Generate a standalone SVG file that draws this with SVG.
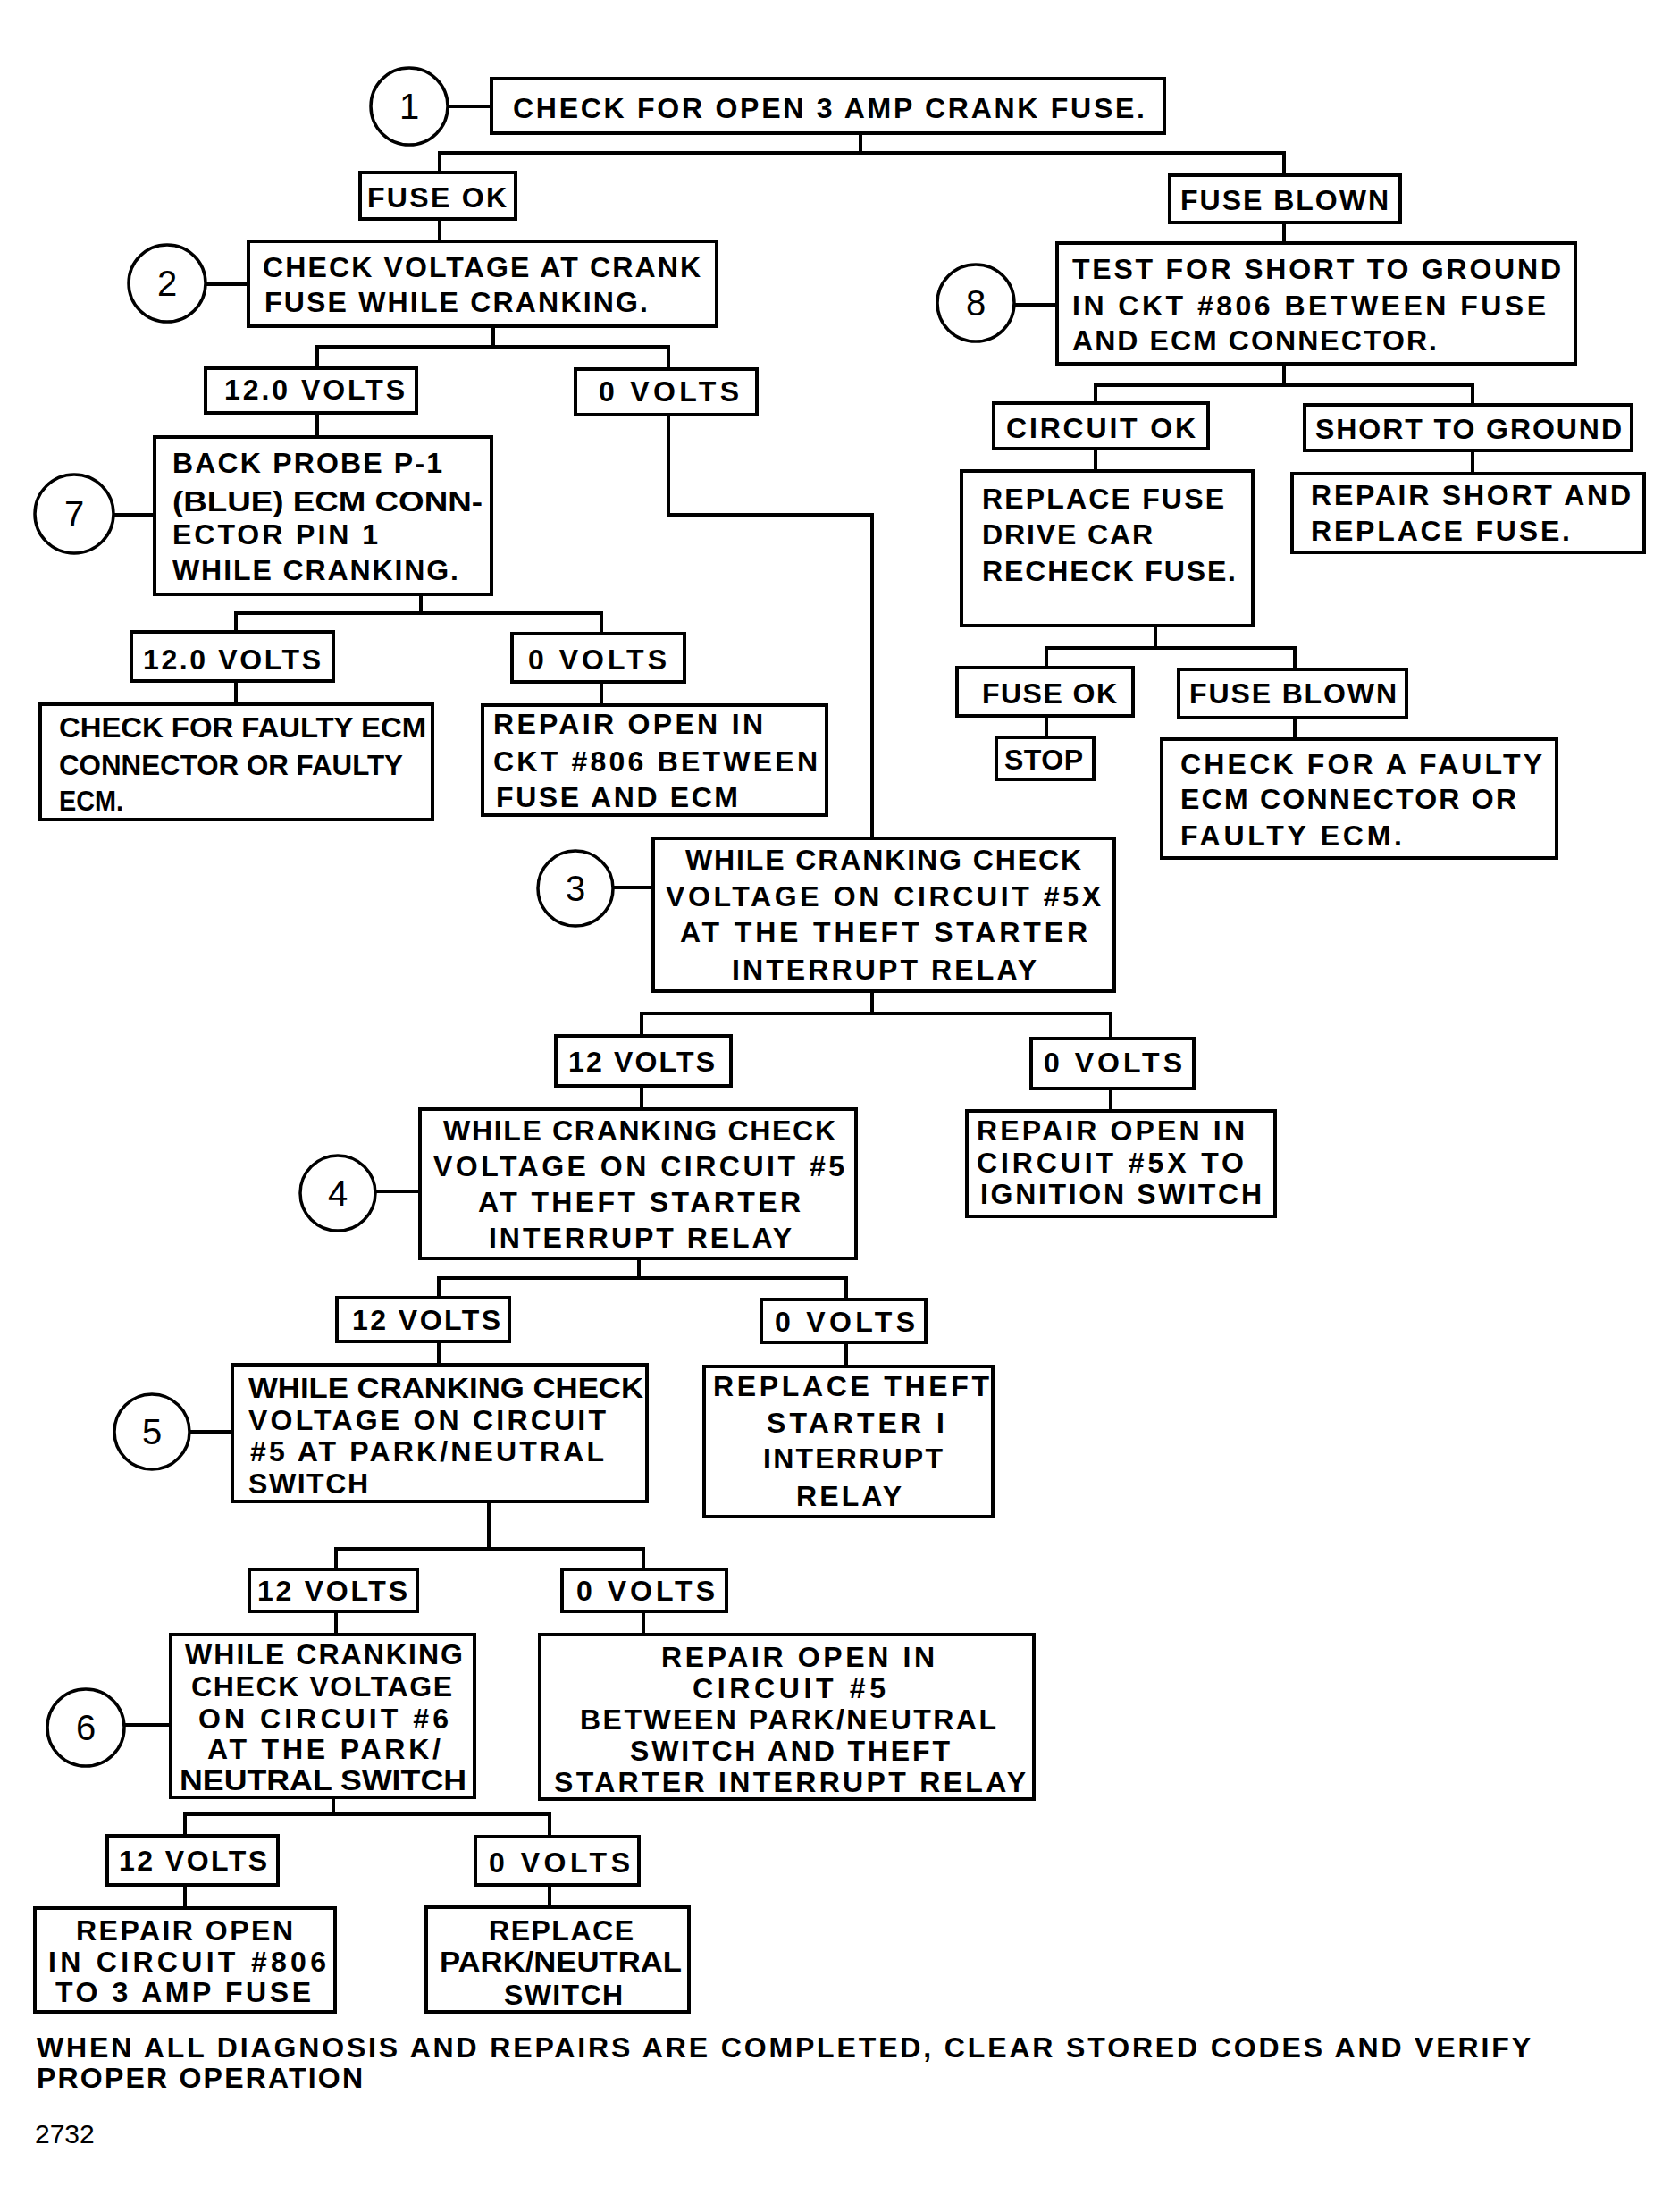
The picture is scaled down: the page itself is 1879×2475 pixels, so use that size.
<svg xmlns="http://www.w3.org/2000/svg" width="1879" height="2475" viewBox="0 0 1879 2475">
<style>
.b{fill:#fff;stroke:#000;stroke-width:4}
.c{fill:#fff;stroke:#000;stroke-width:3.5}
.t{font-family:"Liberation Sans",Arial,sans-serif;font-size:32px;font-weight:bold;fill:#000}
.n{font-family:"Liberation Sans",Arial,sans-serif;font-size:40px;fill:#000;text-anchor:middle}
.f{font-family:"Liberation Sans",Arial,sans-serif;font-size:30px;fill:#000}
#connectors path{fill:none;stroke:#000;stroke-width:4}
</style>
<rect width="1879" height="2475" fill="#fff"/>
<g id="connectors">
<path d="M501 119H550"/>
<path d="M963 149V171M492 193V171H1437V196"/>
<path d="M492 245V270"/>
<path d="M230 318H278"/>
<path d="M552 365V388M355 412V388H748V413"/>
<path d="M355 462V489"/>
<path d="M128 576H173"/>
<path d="M471 665V686M264 707V686H673V709"/>
<path d="M264 762V788M673 763V789"/>
<path d="M748 464V576H976V938"/>
<path d="M1437 249V272"/>
<path d="M1135 341H1183"/>
<path d="M1437 407V431M1226 451V431H1648V453"/>
<path d="M1226 502V527M1648 504V530"/>
<path d="M1293 700V725M1171 747V725H1449V749"/>
<path d="M1171 801V825M1449 803V827"/>
<path d="M686 993H731"/>
<path d="M976 1109V1134M718 1159V1134H1243V1162"/>
<path d="M718 1215V1241M1243 1218V1243"/>
<path d="M421 1333H470"/>
<path d="M715 1408V1430M491 1452V1430H947V1454"/>
<path d="M491 1501V1527M947 1502V1529"/>
<path d="M211 1602H260"/>
<path d="M547 1680V1733M376 1756V1733H720V1756"/>
<path d="M376 1803V1829M720 1803V1829"/>
<path d="M139 1930H191"/>
<path d="M373 2011V2030M207 2054V2030H615V2055"/>
<path d="M207 2109V2135M615 2109V2134"/>
</g>
<g id="step1-marker"><circle class="c" cx="458" cy="119" r="43"/><text class="n" x="458" y="133">1</text></g>
<g id="step1"><rect class="b" x="550" y="88" width="753" height="61"/><text class="t" x="574" y="132" textLength="707" lengthAdjust="spacing">CHECK FOR OPEN 3 AMP CRANK FUSE.</text></g>
<g id="fuse-ok-1"><rect class="b" x="403" y="193" width="174" height="52"/><text class="t" x="411" y="232" textLength="156" lengthAdjust="spacing">FUSE OK</text></g>
<g id="fuse-blown-1"><rect class="b" x="1309" y="196" width="258" height="53"/><text class="t" x="1321" y="235" textLength="233" lengthAdjust="spacing">FUSE BLOWN</text></g>
<g id="step2-marker"><circle class="c" cx="187" cy="317" r="43"/><text class="n" x="187" y="331">2</text></g>
<g id="step2"><rect class="b" x="278" y="270" width="524" height="95"/><text class="t" x="294" y="310" textLength="490" lengthAdjust="spacing">CHECK VOLTAGE AT CRANK</text><text class="t" x="296" y="349" textLength="429" lengthAdjust="spacing">FUSE WHILE CRANKING.</text></g>
<g id="v12-2"><rect class="b" x="230" y="412" width="236" height="50"/><text class="t" x="251" y="447" textLength="202" lengthAdjust="spacing">12.0 VOLTS</text></g>
<g id="v0-2"><rect class="b" x="644" y="413" width="203" height="51"/><text class="t" x="670" y="449" textLength="157" lengthAdjust="spacing">0 VOLTS</text></g>
<g id="step7-marker"><circle class="c" cx="83" cy="575" r="44"/><text class="n" x="83" y="589">7</text></g>
<g id="step7"><rect class="b" x="173" y="489" width="377" height="176"/><text class="t" x="193" y="529" textLength="302" lengthAdjust="spacing">BACK PROBE P-1</text><text class="t" x="193" y="572" textLength="347" lengthAdjust="spacingAndGlyphs">(BLUE) ECM CONN-</text><text class="t" x="193" y="609" textLength="230" lengthAdjust="spacing">ECTOR PIN 1</text><text class="t" x="193" y="649" textLength="320" lengthAdjust="spacing">WHILE CRANKING.</text></g>
<g id="v12-7"><rect class="b" x="147" y="707" width="226" height="55"/><text class="t" x="160" y="749" textLength="199" lengthAdjust="spacing">12.0 VOLTS</text></g>
<g id="v0-7"><rect class="b" x="573" y="709" width="193" height="54"/><text class="t" x="591" y="749" textLength="155" lengthAdjust="spacing">0 VOLTS</text></g>
<g id="faulty-ecm-7"><rect class="b" x="45" y="788" width="439" height="129"/><text class="t" x="66" y="825" textLength="411" lengthAdjust="spacingAndGlyphs">CHECK FOR FAULTY ECM</text><text class="t" x="66" y="867" textLength="385" lengthAdjust="spacingAndGlyphs">CONNECTOR OR FAULTY</text><text class="t" x="66" y="907" textLength="72" lengthAdjust="spacingAndGlyphs">ECM.</text></g>
<g id="repair-806"><rect class="b" x="540" y="789" width="385" height="123"/><text class="t" x="552" y="821" textLength="302" lengthAdjust="spacing">REPAIR OPEN IN</text><text class="t" x="552" y="863" textLength="363" lengthAdjust="spacing">CKT #806 BETWEEN</text><text class="t" x="555" y="903" textLength="271" lengthAdjust="spacing">FUSE AND ECM</text></g>
<g id="step8-marker"><circle class="c" cx="1092" cy="339" r="43"/><text class="n" x="1092" y="353">8</text></g>
<g id="step8"><rect class="b" x="1183" y="272" width="580" height="135"/><text class="t" x="1200" y="312" textLength="547" lengthAdjust="spacing">TEST FOR SHORT TO GROUND</text><text class="t" x="1200" y="353" textLength="530" lengthAdjust="spacing">IN CKT #806 BETWEEN FUSE</text><text class="t" x="1200" y="392" textLength="408" lengthAdjust="spacing">AND ECM CONNECTOR.</text></g>
<g id="circuit-ok"><rect class="b" x="1112" y="451" width="240" height="51"/><text class="t" x="1126" y="490" textLength="212" lengthAdjust="spacing">CIRCUIT OK</text></g>
<g id="short-to-ground"><rect class="b" x="1460" y="453" width="366" height="51"/><text class="t" x="1472" y="491" textLength="343" lengthAdjust="spacing">SHORT TO GROUND</text></g>
<g id="replace-fuse"><rect class="b" x="1076" y="527" width="326" height="173"/><text class="t" x="1099" y="569" textLength="271" lengthAdjust="spacing">REPLACE FUSE</text><text class="t" x="1099" y="609" textLength="191" lengthAdjust="spacing">DRIVE CAR</text><text class="t" x="1099" y="650" textLength="284" lengthAdjust="spacing">RECHECK FUSE.</text></g>
<g id="repair-short"><rect class="b" x="1446" y="530" width="394" height="88"/><text class="t" x="1467" y="565" textLength="358" lengthAdjust="spacing">REPAIR SHORT AND</text><text class="t" x="1467" y="605" textLength="290" lengthAdjust="spacing">REPLACE FUSE.</text></g>
<g id="fuse-ok-2"><rect class="b" x="1071" y="747" width="197" height="54"/><text class="t" x="1099" y="787" textLength="151" lengthAdjust="spacing">FUSE OK</text></g>
<g id="fuse-blown-2"><rect class="b" x="1319" y="749" width="255" height="54"/><text class="t" x="1331" y="787" textLength="232" lengthAdjust="spacing">FUSE BLOWN</text></g>
<g id="stop"><rect class="b" x="1115" y="825" width="109" height="47"/><text class="t" x="1124" y="861" textLength="88" lengthAdjust="spacing">STOP</text></g>
<g id="faulty-ecm-8"><rect class="b" x="1300" y="827" width="442" height="133"/><text class="t" x="1321" y="866" textLength="405" lengthAdjust="spacing">CHECK FOR A FAULTY</text><text class="t" x="1321" y="905" textLength="376" lengthAdjust="spacing">ECM CONNECTOR OR</text><text class="t" x="1321" y="946" textLength="248" lengthAdjust="spacing">FAULTY ECM.</text></g>
<g id="step3-marker"><circle class="c" cx="644" cy="994" r="42"/><text class="n" x="644" y="1008">3</text></g>
<g id="step3"><rect class="b" x="731" y="938" width="516" height="171"/><text class="t" x="767" y="973" textLength="443" lengthAdjust="spacing">WHILE CRANKING CHECK</text><text class="t" x="745" y="1014" textLength="487" lengthAdjust="spacing">VOLTAGE ON CIRCUIT #5X</text><text class="t" x="761" y="1054" textLength="456" lengthAdjust="spacing">AT THE THEFT STARTER</text><text class="t" x="819" y="1096" textLength="341" lengthAdjust="spacing">INTERRUPT RELAY</text></g>
<g id="v12-3"><rect class="b" x="622" y="1159" width="196" height="56"/><text class="t" x="636" y="1199" textLength="164" lengthAdjust="spacing">12 VOLTS</text></g>
<g id="v0-3"><rect class="b" x="1154" y="1162" width="182" height="56"/><text class="t" x="1168" y="1200" textLength="155" lengthAdjust="spacing">0 VOLTS</text></g>
<g id="repair-5x"><rect class="b" x="1082" y="1243" width="345" height="118"/><text class="t" x="1093" y="1276" textLength="300" lengthAdjust="spacing">REPAIR OPEN IN</text><text class="t" x="1093" y="1312" textLength="299" lengthAdjust="spacing">CIRCUIT #5X TO</text><text class="t" x="1097" y="1347" textLength="315" lengthAdjust="spacing">IGNITION SWITCH</text></g>
<g id="step4-marker"><circle class="c" cx="378" cy="1335" r="42"/><text class="n" x="378" y="1349">4</text></g>
<g id="step4"><rect class="b" x="470" y="1241" width="488" height="167"/><text class="t" x="496" y="1276" textLength="439" lengthAdjust="spacing">WHILE CRANKING CHECK</text><text class="t" x="485" y="1316" textLength="460" lengthAdjust="spacing">VOLTAGE ON CIRCUIT #5</text><text class="t" x="535" y="1356" textLength="361" lengthAdjust="spacing">AT THEFT STARTER</text><text class="t" x="547" y="1396" textLength="339" lengthAdjust="spacing">INTERRUPT RELAY</text></g>
<g id="v12-4"><rect class="b" x="377" y="1452" width="193" height="49"/><text class="t" x="394" y="1488" textLength="166" lengthAdjust="spacing">12 VOLTS</text></g>
<g id="v0-4"><rect class="b" x="852" y="1454" width="184" height="48"/><text class="t" x="867" y="1490" textLength="157" lengthAdjust="spacing">0 VOLTS</text></g>
<g id="step5-marker"><circle class="c" cx="170" cy="1602" r="42"/><text class="n" x="170" y="1616">5</text></g>
<g id="step5"><rect class="b" x="260" y="1527" width="464" height="153"/><text class="t" x="278" y="1564" textLength="442" lengthAdjust="spacingAndGlyphs">WHILE CRANKING CHECK</text><text class="t" x="278" y="1600" textLength="400" lengthAdjust="spacing">VOLTAGE ON CIRCUIT</text><text class="t" x="280" y="1635" textLength="396" lengthAdjust="spacing">#5 AT PARK/NEUTRAL</text><text class="t" x="278" y="1671" textLength="134" lengthAdjust="spacing">SWITCH</text></g>
<g id="replace-relay"><rect class="b" x="788" y="1529" width="323" height="168"/><text class="t" x="798" y="1562" textLength="309" lengthAdjust="spacing">REPLACE THEFT</text><text class="t" x="858" y="1603" textLength="199" lengthAdjust="spacing">STARTER I</text><text class="t" x="854" y="1643" textLength="201" lengthAdjust="spacing">INTERRUPT</text><text class="t" x="891" y="1685" textLength="118" lengthAdjust="spacing">RELAY</text></g>
<g id="v12-5"><rect class="b" x="279" y="1756" width="188" height="47"/><text class="t" x="288" y="1791" textLength="168" lengthAdjust="spacing">12 VOLTS</text></g>
<g id="v0-5"><rect class="b" x="629" y="1756" width="184" height="47"/><text class="t" x="645" y="1791" textLength="155" lengthAdjust="spacing">0 VOLTS</text></g>
<g id="step6-marker"><circle class="c" cx="96" cy="1933" r="43"/><text class="n" x="96" y="1947">6</text></g>
<g id="step6"><rect class="b" x="191" y="1829" width="340" height="182"/><text class="t" x="207" y="1862" textLength="311" lengthAdjust="spacing">WHILE CRANKING</text><text class="t" x="214" y="1898" textLength="292" lengthAdjust="spacing">CHECK VOLTAGE</text><text class="t" x="222" y="1934" textLength="280" lengthAdjust="spacing">ON CIRCUIT #6</text><text class="t" x="232" y="1968" textLength="261" lengthAdjust="spacing">AT THE PARK/</text><text class="t" x="201" y="2003" textLength="321" lengthAdjust="spacingAndGlyphs">NEUTRAL SWITCH</text></g>
<g id="repair-5"><rect class="b" x="604" y="1829" width="553" height="184"/><text class="t" x="740" y="1865" textLength="306" lengthAdjust="spacing">REPAIR OPEN IN</text><text class="t" x="775" y="1900" textLength="216" lengthAdjust="spacing">CIRCUIT #5</text><text class="t" x="649" y="1935" textLength="466" lengthAdjust="spacing">BETWEEN PARK/NEUTRAL</text><text class="t" x="705" y="1970" textLength="358" lengthAdjust="spacing">SWITCH AND THEFT</text><text class="t" x="620" y="2005" textLength="528" lengthAdjust="spacing">STARTER INTERRUPT RELAY</text></g>
<g id="v12-6"><rect class="b" x="120" y="2054" width="191" height="55"/><text class="t" x="133" y="2093" textLength="166" lengthAdjust="spacing">12 VOLTS</text></g>
<g id="v0-6"><rect class="b" x="532" y="2055" width="183" height="54"/><text class="t" x="547" y="2095" textLength="158" lengthAdjust="spacing">0 VOLTS</text></g>
<g id="repair-806-fuse"><rect class="b" x="39" y="2135" width="336" height="116"/><text class="t" x="85" y="2171" textLength="243" lengthAdjust="spacing">REPAIR OPEN</text><text class="t" x="54" y="2206" textLength="311" lengthAdjust="spacing">IN CIRCUIT #806</text><text class="t" x="62" y="2240" textLength="286" lengthAdjust="spacing">TO 3 AMP FUSE</text></g>
<g id="replace-switch"><rect class="b" x="477" y="2134" width="294" height="117"/><text class="t" x="547" y="2171" textLength="162" lengthAdjust="spacing">REPLACE</text><text class="t" x="492" y="2206" textLength="271" lengthAdjust="spacingAndGlyphs">PARK/NEUTRAL</text><text class="t" x="564" y="2243" textLength="133" lengthAdjust="spacing">SWITCH</text></g>
<g id="footer"><text class="t" x="41" y="2302" textLength="1672" lengthAdjust="spacing">WHEN ALL DIAGNOSIS AND REPAIRS ARE COMPLETED, CLEAR STORED CODES AND VERIFY</text><text class="t" x="41" y="2336" textLength="365" lengthAdjust="spacing">PROPER OPERATION</text><text class="f" x="39" y="2398">2732</text></g>
</svg>
